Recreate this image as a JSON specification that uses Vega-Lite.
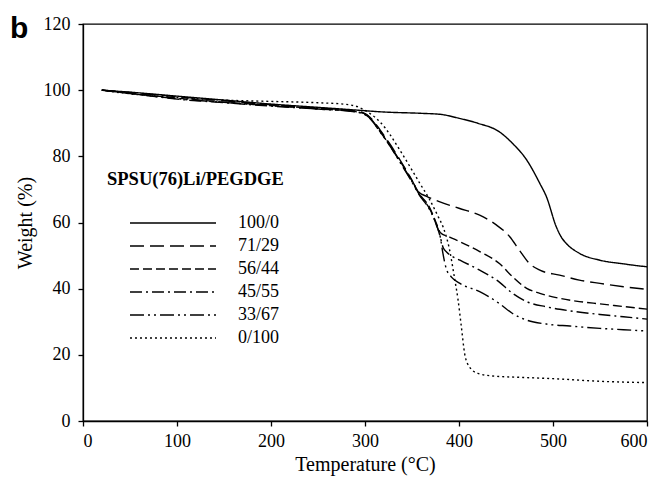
{
  "$schema": "https://vega.github.io/schema/vega-lite/v6.json",
  "width": 564,
  "height": 397,
  "autosize": {"type": "none"},
  "padding": {"left": 83, "top": 24, "right": 18, "bottom": 57},
  "background": "white",
  "title": {"text": "b", "anchor": "start", "frame": "group", "font": "Liberation Sans", "fontSize": 30, "fontWeight": "bold", "color": "black", "dx": -73, "offset": -12, "dy": 41, "baseline": "alphabetic"},
  "config": {
    "font": "Liberation Serif",
    "view": {"stroke": "black", "strokeWidth": 1.3},
    "axis": {"domainColor": "black", "domainWidth": 1.3, "tickColor": "black", "tickWidth": 1.3, "tickSize": 5, "labelFont": "Liberation Serif", "labelFontSize": 18, "labelColor": "black", "titleFont": "Liberation Serif", "titleFontSize": 20, "titleFontWeight": "normal", "titleColor": "black", "grid": false}
  },
  "data": {"values": [
    {"T":20,"W":100,"s":"100/0"},{"T":50,"W":99.4,"s":"100/0"},{"T":100,"W":98.2,"s":"100/0"},{"T":150,"W":97,"s":"100/0"},{"T":200,"W":95.8,"s":"100/0"},{"T":250,"W":94.8,"s":"100/0"},{"T":290,"W":94,"s":"100/0"},{"T":320,"W":93.4,"s":"100/0"},{"T":360,"W":93,"s":"100/0"},{"T":380,"W":92.7,"s":"100/0"},{"T":400,"W":91.5,"s":"100/0"},{"T":420,"W":90,"s":"100/0"},{"T":443,"W":87.4,"s":"100/0"},{"T":457,"W":83.9,"s":"100/0"},{"T":472,"W":78.9,"s":"100/0"},{"T":486,"W":71.8,"s":"100/0"},{"T":493,"W":67.8,"s":"100/0"},{"T":503.5,"W":58.7,"s":"100/0"},{"T":509,"W":55.5,"s":"100/0"},{"T":514,"W":53.7,"s":"100/0"},{"T":528,"W":50.7,"s":"100/0"},{"T":550,"W":48.6,"s":"100/0"},{"T":575,"W":47.5,"s":"100/0"},{"T":600,"W":46.6,"s":"100/0"},
    {"T":20,"W":100,"s":"71/29"},{"T":50,"W":99.3,"s":"71/29"},{"T":100,"W":98,"s":"71/29"},{"T":150,"W":96.8,"s":"71/29"},{"T":200,"W":95.6,"s":"71/29"},{"T":250,"W":94.6,"s":"71/29"},{"T":290,"W":93.7,"s":"71/29"},{"T":300,"W":92.9,"s":"71/29"},{"T":305,"W":91.9,"s":"71/29"},{"T":316,"W":88,"s":"71/29"},{"T":327,"W":83.5,"s":"71/29"},{"T":337,"W":79,"s":"71/29"},{"T":348,"W":73.8,"s":"71/29"},{"T":358,"W":69,"s":"71/29"},{"T":365,"W":68,"s":"71/29"},{"T":379,"W":66.3,"s":"71/29"},{"T":400,"W":64.3,"s":"71/29"},{"T":422,"W":62.2,"s":"71/29"},{"T":440,"W":59.2,"s":"71/29"},{"T":454,"W":55.7,"s":"71/29"},{"T":464,"W":51.7,"s":"71/29"},{"T":475,"W":47.6,"s":"71/29"},{"T":486,"W":45.6,"s":"71/29"},{"T":507,"W":44.1,"s":"71/29"},{"T":528,"W":42.6,"s":"71/29"},{"T":550,"W":41.6,"s":"71/29"},{"T":575,"W":40.6,"s":"71/29"},{"T":600,"W":39.8,"s":"71/29"},
    {"T":20,"W":100,"s":"56/44"},{"T":50,"W":99.1,"s":"56/44"},{"T":100,"W":97.6,"s":"56/44"},{"T":150,"W":96.4,"s":"56/44"},{"T":200,"W":95.4,"s":"56/44"},{"T":250,"W":94.4,"s":"56/44"},{"T":290,"W":93.5,"s":"56/44"},{"T":300,"W":92.8,"s":"56/44"},{"T":305,"W":91.7,"s":"56/44"},{"T":316,"W":87.7,"s":"56/44"},{"T":327,"W":83.2,"s":"56/44"},{"T":337,"W":78.7,"s":"56/44"},{"T":348,"W":73.6,"s":"56/44"},{"T":358,"W":68.6,"s":"56/44"},{"T":369,"W":64.4,"s":"56/44"},{"T":376,"W":59.7,"s":"56/44"},{"T":380,"W":57,"s":"56/44"},{"T":390,"W":55.6,"s":"56/44"},{"T":401,"W":54.2,"s":"56/44"},{"T":422,"W":51.2,"s":"56/44"},{"T":443,"W":47.6,"s":"56/44"},{"T":457,"W":43.6,"s":"56/44"},{"T":472,"W":40.1,"s":"56/44"},{"T":486,"W":38.6,"s":"56/44"},{"T":507,"W":37.1,"s":"56/44"},{"T":528,"W":36.1,"s":"56/44"},{"T":550,"W":35.4,"s":"56/44"},{"T":575,"W":34.6,"s":"56/44"},{"T":600,"W":33.8,"s":"56/44"},
    {"T":20,"W":100,"s":"45/55"},{"T":50,"W":99,"s":"45/55"},{"T":100,"W":97.3,"s":"45/55"},{"T":150,"W":96.2,"s":"45/55"},{"T":200,"W":95.2,"s":"45/55"},{"T":250,"W":94.3,"s":"45/55"},{"T":290,"W":93.5,"s":"45/55"},{"T":300,"W":92.7,"s":"45/55"},{"T":305,"W":91.6,"s":"45/55"},{"T":316,"W":87.5,"s":"45/55"},{"T":327,"W":83,"s":"45/55"},{"T":337,"W":78.5,"s":"45/55"},{"T":348,"W":73.4,"s":"45/55"},{"T":358,"W":68.4,"s":"45/55"},{"T":369,"W":64,"s":"45/55"},{"T":376,"W":59.4,"s":"45/55"},{"T":380,"W":55.7,"s":"45/55"},{"T":383,"W":52.5,"s":"45/55"},{"T":387,"W":51,"s":"45/55"},{"T":393,"W":49.7,"s":"45/55"},{"T":401,"W":48.6,"s":"45/55"},{"T":422,"W":45.6,"s":"45/55"},{"T":440,"W":42.6,"s":"45/55"},{"T":457,"W":38.6,"s":"45/55"},{"T":472,"W":36.1,"s":"45/55"},{"T":493,"W":34.5,"s":"45/55"},{"T":518,"W":33.3,"s":"45/55"},{"T":550,"W":32.2,"s":"45/55"},{"T":575,"W":31.5,"s":"45/55"},{"T":600,"W":30.8,"s":"45/55"},
    {"T":20,"W":100,"s":"33/67"},{"T":50,"W":99,"s":"33/67"},{"T":100,"W":97.4,"s":"33/67"},{"T":150,"W":96.3,"s":"33/67"},{"T":200,"W":95.3,"s":"33/67"},{"T":250,"W":94.3,"s":"33/67"},{"T":290,"W":93.4,"s":"33/67"},{"T":300,"W":92.6,"s":"33/67"},{"T":305,"W":91.5,"s":"33/67"},{"T":316,"W":87.4,"s":"33/67"},{"T":327,"W":82.9,"s":"33/67"},{"T":337,"W":78.3,"s":"33/67"},{"T":348,"W":73.2,"s":"33/67"},{"T":358,"W":68.2,"s":"33/67"},{"T":369,"W":63.8,"s":"33/67"},{"T":376,"W":59.2,"s":"33/67"},{"T":380,"W":55.7,"s":"33/67"},{"T":383,"W":50.5,"s":"33/67"},{"T":386.5,"W":46,"s":"33/67"},{"T":392,"W":43.5,"s":"33/67"},{"T":401,"W":41.6,"s":"33/67"},{"T":422,"W":39.1,"s":"33/67"},{"T":443,"W":35.5,"s":"33/67"},{"T":457,"W":32.5,"s":"33/67"},{"T":472,"W":30.5,"s":"33/67"},{"T":493,"W":29.3,"s":"33/67"},{"T":518,"W":28.7,"s":"33/67"},{"T":550,"W":28,"s":"33/67"},{"T":575,"W":27.6,"s":"33/67"},{"T":600,"W":27.2,"s":"33/67"},
    {"T":20,"W":100,"s":"0/100"},{"T":50,"W":98.9,"s":"0/100"},{"T":100,"W":97.8,"s":"0/100"},{"T":150,"W":97,"s":"0/100"},{"T":200,"W":96.6,"s":"0/100"},{"T":250,"W":96.2,"s":"0/100"},{"T":280,"W":95.7,"s":"0/100"},{"T":292,"W":95,"s":"0/100"},{"T":305,"W":93,"s":"0/100"},{"T":316,"W":90.4,"s":"0/100"},{"T":327,"W":86.4,"s":"0/100"},{"T":337,"W":81.9,"s":"0/100"},{"T":348,"W":76.8,"s":"0/100"},{"T":358,"W":72,"s":"0/100"},{"T":369,"W":66.8,"s":"0/100"},{"T":378,"W":61.7,"s":"0/100"},{"T":383,"W":58.7,"s":"0/100"},{"T":390,"W":51.7,"s":"0/100"},{"T":395,"W":43.6,"s":"0/100"},{"T":399,"W":36.6,"s":"0/100"},{"T":402.5,"W":28.5,"s":"0/100"},{"T":406,"W":20.4,"s":"0/100"},{"T":411,"W":16.4,"s":"0/100"},{"T":420,"W":14.4,"s":"0/100"},{"T":436,"W":13.6,"s":"0/100"},{"T":465,"W":13.2,"s":"0/100"},{"T":500,"W":12.8,"s":"0/100"},{"T":550,"W":12,"s":"0/100"},{"T":600,"W":11.6,"s":"0/100"}
  ]},
  "mark": {"type": "line", "color": "black", "clip": true, "interpolate": "monotone"},
  "encoding": {
    "x": {"field": "T", "type": "quantitative", "title": "Temperature (°C)", "scale": {"domain": [0, 600], "nice": false}, "axis": {"values": [0, 100, 200, 300, 400, 500, 600], "labelPadding": 6, "titlePadding": 4}},
    "y": {"field": "W", "type": "quantitative", "title": "Weight (%)", "scale": {"domain": [0, 120], "nice": false}, "axis": {"values": [0, 20, 40, 60, 80, 100, 120], "labelPadding": 8, "titlePadding": 8}},
    "strokeDash": {"field": "s", "type": "nominal", "sort": null,
      "scale": {"domain": ["100/0", "71/29", "56/44", "45/55", "33/67", "0/100"], "range": [[1, 0], [14, 6], [9, 4], [12, 4, 2, 4], [14, 4, 2, 4, 2, 4], [2, 3]]},
      "legend": {"title": "SPSU(76)Li/PEGDGE", "orient": "none", "legendX": 24, "legendY": 146, "titleFont": "Liberation Serif", "titleFontSize": 18.5, "titleFontWeight": "bold", "titleColor": "black", "titlePadding": 23, "symbolType": "stroke", "symbolSize": 7400, "symbolOffset": 22, "labelOffset": 21, "clipHeight": 23, "rowPadding": 0, "labelFont": "Liberation Serif", "labelFontSize": 18, "labelColor": "black", "symbolStrokeColor": "black", "padding": 0}},
    "strokeWidth": {"field": "s", "type": "nominal", "sort": null,
      "scale": {"domain": ["100/0", "71/29", "56/44", "45/55", "33/67", "0/100"], "range": [1.4, 1.4, 1.4, 1.4, 1.4, 2.6]},
      "legend": {"title": "SPSU(76)Li/PEGDGE", "orient": "none", "legendX": 24, "legendY": 146, "titleFont": "Liberation Serif", "titleFontSize": 18.5, "titleFontWeight": "bold", "titleColor": "black", "titlePadding": 23, "symbolType": "stroke", "symbolSize": 7400, "symbolOffset": 22, "labelOffset": 21, "clipHeight": 23, "rowPadding": 0, "labelFont": "Liberation Serif", "labelFontSize": 18, "labelColor": "black", "symbolStrokeColor": "black", "padding": 0}}
  }
}
